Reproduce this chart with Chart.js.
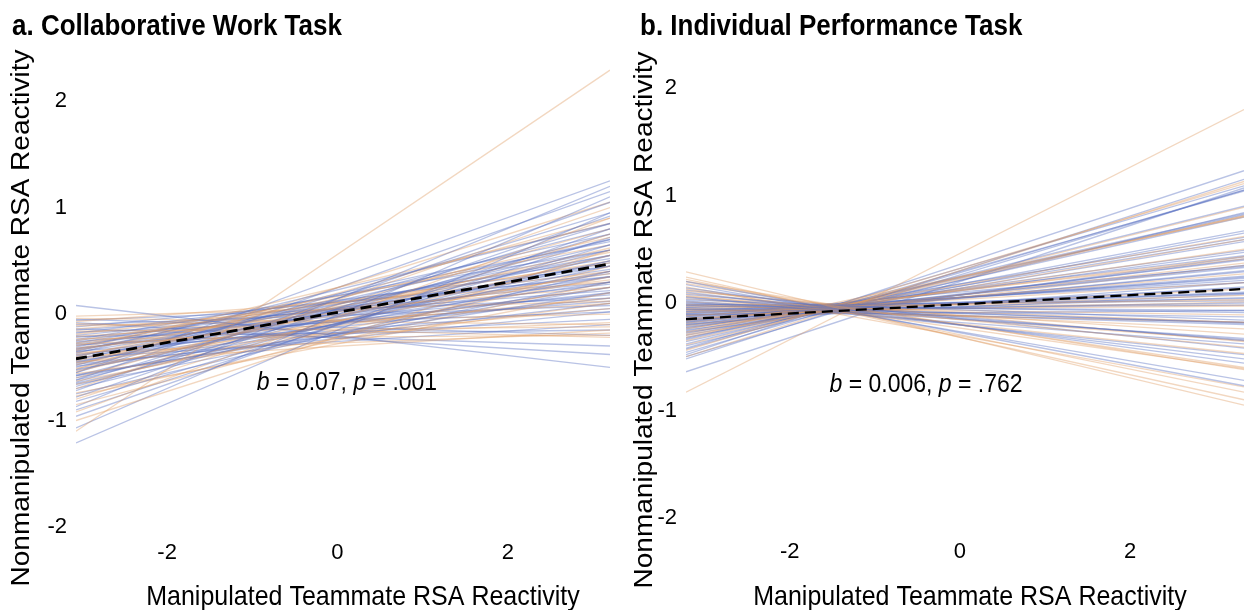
<!DOCTYPE html>
<html><head><meta charset="utf-8">
<script src="https://cdn.jsdelivr.net/npm/chart.js@4"></script>
<style>
html,body{margin:0;padding:0;background:#fff;}
#wrap{position:relative;width:1244px;height:610px;overflow:hidden;}
.panel{position:absolute;top:0;height:610px;}
</style></head><body>
<div id="wrap">
<div class="panel" style="left:0;width:620px"><canvas id="ca" width="620" height="610"></canvas></div>
<div class="panel" style="left:620px;width:624px"><canvas id="cb" width="624" height="610"></canvas></div>
</div>
<script>
// ---------- data ----------
const yTickValues = [-2, -1, 0, 1, 2];
const xTickValues = [-2, 0, 2];

// Panel a: x range of the fitted lines, and each line's value at left / right end
const aXRange = [-3.07, 3.2];
const aMean = [-0.42, 0.47];
const aBlueStart = [0.08,-1.21,-1.07,-0.96,-0.87,-0.82,-0.78,-0.75,-0.72,-0.70,-0.68,-0.66,-0.64,-0.62,-0.60,-0.58,-0.57,-0.55,-0.53,-0.52,-0.50,-0.49,-0.48,-0.46,-0.45,-0.44,-0.43,-0.42,-0.40,-0.39,-0.38,-0.37,-0.36,-0.35,-0.34,-0.33,-0.32,-0.31,-0.30,-0.29,-0.28,-0.27,-0.26,-0.25,-0.24,-0.22,-0.21,-0.20,-0.18,-0.17,-0.15,-0.14,-0.12,-0.10,-0.08,-0.06,-0.05,-0.55,-0.62,-0.90,-0.47,-0.35,-0.58,-0.41,-0.65];
const aBlueEnd = [-0.50,0.95,1.10,0.80,1.20,0.65,0.92,0.40,1.05,0.55,0.75,0.30,0.85,0.60,0.45,0.70,0.20,0.95,0.50,0.35,0.65,0.10,0.80,0.55,0.40,0.25,0.70,0.48,0.60,0.30,0.15,0.85,0.45,0.05,0.55,0.35,0.20,0.68,0.42,-0.05,0.28,0.52,0.12,0.38,0.60,0.18,-0.15,0.30,0.45,0.02,0.22,-0.30,0.35,0.08,-0.38,0.15,-0.20,1.25,1.15,0.72,0.02,0.75,0.25,-0.10,0.50];
const aOrangeStart = [-1.10,-1.00,-0.92,-0.85,-0.80,-0.74,-0.70,-0.66,-0.63,-0.60,-0.56,-0.54,-0.51,-0.48,-0.46,-0.44,-0.41,-0.40,-0.38,-0.36,-0.34,-0.32,-0.30,-0.28,-0.27,-0.25,-0.23,-0.21,-0.19,-0.16,-0.14,-0.11,-0.09,-0.07,-0.04,-0.02,-0.52,-0.77,-0.45,-0.33];
const aOrangeEnd = [2.29,0.60,0.90,0.45,0.75,0.20,1.00,0.55,0.35,0.80,0.10,0.62,0.40,0.90,0.25,0.58,0.05,0.72,0.38,-0.18,0.50,0.15,0.65,-0.08,0.32,0.48,-0.20,0.10,0.40,-0.12,0.25,0.00,-0.22,0.30,-0.10,0.12,1.05,0.30,-0.15,0.85];

// Panel b
const bXRange = [-3.22, 3.34];
const bMean = [-0.15, 0.13];
const bBlueStart = [0.20,0.14,0.10,0.08,0.05,0.03,0.02,0.00,-0.01,-0.02,-0.03,-0.04,-0.05,-0.06,-0.07,-0.08,-0.09,-0.10,-0.11,-0.12,-0.13,-0.14,-0.15,-0.16,-0.17,-0.18,-0.19,-0.20,-0.21,-0.22,-0.23,-0.25,-0.26,-0.28,-0.30,-0.32,-0.34,-0.36,-0.38,-0.40,-0.43,-0.46,-0.48,-0.52,-0.64,-0.06,-0.10,-0.15,-0.18,-0.02,0.06,0.12,-0.27,-0.33,0.17,-0.08,-0.11,-0.24,-0.42,0.01,-0.04,-0.13,-0.20,-0.50];
const bBlueEnd = [-0.77,-0.56,-0.52,-0.35,-0.34,-0.16,-0.33,-0.19,-0.09,-0.18,-0.07,0.04,-0.13,-0.02,0.09,0.00,0.10,0.09,0.05,0.23,0.14,0.25,0.24,0.15,0.33,0.29,0.35,0.30,0.49,0.40,0.47,0.41,0.59,0.57,0.67,0.65,0.82,0.80,0.90,0.84,1.04,1.05,1.23,1.15,1.07,-0.18,0.21,0.08,0.44,0.02,-0.48,-0.42,0.43,0.83,-0.72,0.19,-0.07,0.61,1.09,-0.38,-0.20,0.34,0.19,1.05];
const bOrangeStart = [0.29,0.22,0.18,0.13,0.09,0.06,0.04,0.01,-0.01,-0.03,-0.05,-0.07,-0.09,-0.12,-0.14,-0.16,-0.19,-0.21,-0.24,-0.27,-0.30,-0.35,-0.39,-0.44,-0.83,-0.50,0.15,0.11,-0.02,-0.11,-0.17,-0.23,-0.32,0.07,0.20,-0.06,-0.29,0.24];
const bOrangeEnd = [-0.95,-0.83,-0.60,-0.61,-0.41,-0.29,-0.35,-0.18,-0.24,-0.11,0.03,-0.03,0.07,0.19,0.13,0.27,0.43,0.37,0.50,0.62,0.59,0.81,0.89,1.11,1.80,1.13,-0.78,-0.36,-0.02,0.01,0.41,0.35,0.81,-0.47,-0.62,-0.18,0.80,-0.90];

const titleA = 'a. Collaborative Work Task';
const titleB = 'b. Individual Performance Task';
const xTitle = 'Manipulated Teammate RSA Reactivity';
const yTitle = 'Nonmanipulated Teammate RSA Reactivity';
const statsA = [['b', true], [' = 0.07, ', false], ['p', true], [' = .001', false]];
const statsB = [['b', true], [' = 0.006, ', false], ['p', true], [' = .762', false]];

// ---------- drawing ----------
const FAMILY = '"Liberation Sans", Arial, Helvetica, sans-serif';
const BLUE = 'rgba(88,112,194,0.42)';
const ORANGE = 'rgba(222,156,98,0.40)';
const SY = 1.12; // vertical stretch of the reference typography

function txt(ctx, s, x, y, font, align) {
  ctx.save();
  ctx.translate(x, y); ctx.scale(1, SY);
  ctx.font = font; ctx.textAlign = align; ctx.textBaseline = 'middle';
  ctx.fillStyle = '#000'; ctx.fillText(s, 0, 0);
  ctx.restore();
}

const textPlugin = {
  id: 'panelText',
  afterDraw(chart, args, o) {
    const ctx = chart.ctx;
    txt(ctx, o.title, o.titleX, o.titleY, 'bold 26px ' + FAMILY, 'left');
    txt(ctx, xTitle, o.xTitleX, o.xTitleY, '25px ' + FAMILY, 'center');
    // rotated y title
    ctx.save();
    ctx.translate(o.yTitleX, o.yTitleY); ctx.scale(1, SY); ctx.rotate(-Math.PI / 2);
    ctx.font = '25px ' + FAMILY; ctx.textAlign = 'center'; ctx.textBaseline = 'middle';
    ctx.fillStyle = '#000'; ctx.fillText(yTitle, 0, 0);
    ctx.restore();
    // stats annotation with italic b and p
    const size = 23;
    const fonts = o.stats.map(p => (p[1] ? 'italic ' : '') + size + 'px ' + FAMILY);
    let total = 0;
    const widths = o.stats.map((p, i) => { ctx.font = fonts[i]; const w = ctx.measureText(p[0]).width; total += w; return w; });
    let x = o.statX - total / 2;
    o.stats.forEach((p, i) => { txt(ctx, p[0], x, o.statY, fonts[i], 'left'); x += widths[i]; });
  }
};

function lineDs(xr, y0, y1, color, width, extra) {
  return Object.assign({
    data: [{x: xr[0], y: y0}, {x: xr[1], y: y1}],
    borderColor: color, borderWidth: width, pointRadius: 0, fill: false, tension: 0
  }, extra || {});
}

function makePanel(id, c) {
  const ds = [lineDs(c.xr, c.mean[0], c.mean[1], '#000', c.meanW, {borderDash: [11, 6], order: -1})];
  const n = Math.max(c.bs.length, c.os.length);
  for (let i = 0; i < n; i++) {
    if (i < c.bs.length && i < c.be.length) ds.push(lineDs(c.xr, c.bs[i], c.be[i], BLUE, 1.3));
    if (i < c.os.length && i < c.oe.length) ds.push(lineDs(c.xr, c.os[i], c.oe[i], ORANGE, 1.3));
  }
  const tickFont = {family: FAMILY, size: 22};
  return new Chart(document.getElementById(id), {
    type: 'line',
    data: {datasets: ds},
    plugins: [textPlugin],
    options: {
      responsive: false, animation: false, events: [],
      layout: {padding: {top: c.top, right: c.right, left: 0, bottom: 0}},
      plugins: {legend: {display: false}, tooltip: {enabled: false}, title: {display: false},
        panelText: c.text},
      scales: {
        x: {type: 'linear', min: c.xr[0], max: c.xr[1],
          afterBuildTicks: s => { s.ticks = xTickValues.map(v => ({value: v})); },
          afterFit: s => { s.height = c.xAxisH; },
          grid: {display: false, drawTicks: false}, border: {display: false},
          ticks: {color: '#000', font: tickFont, padding: c.xPad, maxRotation: 0, autoSkip: false}},
        y: {type: 'linear', min: c.ymin, max: c.ymax,
          afterBuildTicks: s => { s.ticks = yTickValues.map(v => ({value: v})); },
          afterFit: s => { s.width = c.yAxisW; },
          grid: {display: false, drawTicks: false}, border: {display: false},
          ticks: {color: '#000', font: tickFont, padding: 9, autoSkip: false}}
      }
    }
  });
}

makePanel('ca', {
  xr: aXRange, mean: aMean, meanW: 2.8, bs: aBlueStart, be: aBlueEnd, os: aOrangeStart, oe: aOrangeEnd,
  top: 53, right: 10, xAxisH: 72, yAxisW: 76, xPad: 2, ymin: -2.103, ymax: 2.451,
  text: {title: titleA, titleX: 12, titleY: 27, xTitleX: 363, xTitleY: 597, yTitleX: 22, yTitleY: 318,
    stats: statsA, statX: 347, statY: 383}
});
makePanel('cb', {
  xr: bXRange, mean: bMean, meanW: 2.3, bs: bBlueStart, be: bBlueEnd, os: bOrangeStart, oe: bOrangeEnd,
  top: 50, right: 0, xAxisH: 75, yAxisW: 66, xPad: 4, ymin: -2.158, ymax: 2.353,
  text: {title: titleB, titleX: 20, titleY: 27, xTitleX: 350, xTitleY: 597, yTitleX: 25, yTitleY: 320,
    stats: statsB, statX: 306, statY: 385}
});
</script>
</body></html>
